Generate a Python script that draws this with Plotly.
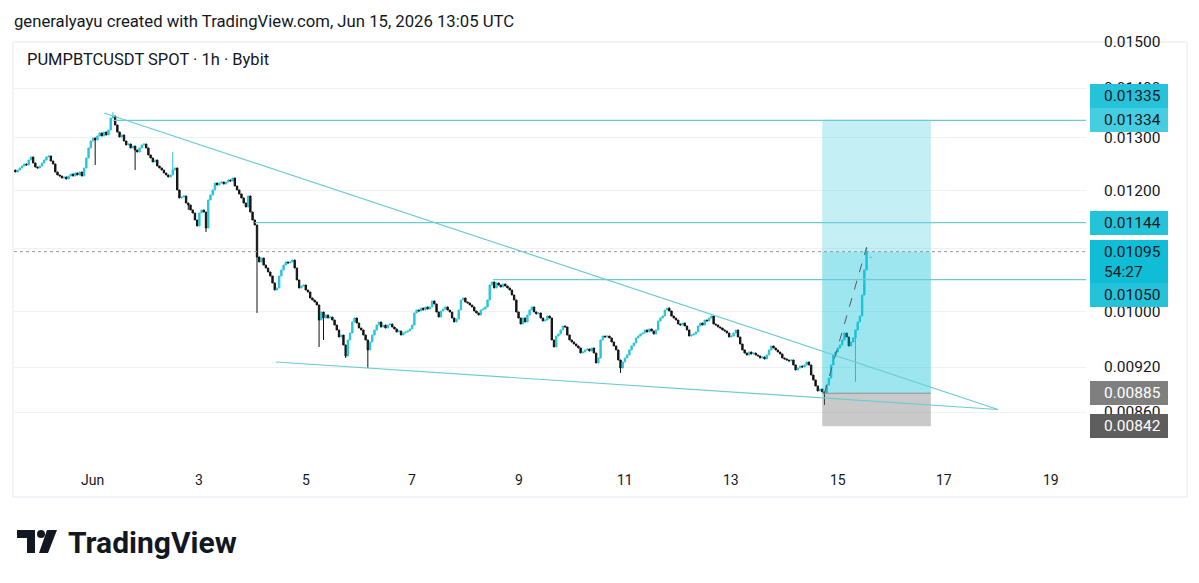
import numpy as np
import pandas as pd
import plotly.graph_objects as go

# ---------------- data ----------------
START = "2026-05-30 13:00"          # first hourly candle
FIRST_OPEN = 0.012380

closes = [
    0.012343, 0.012380, 0.012418, 0.012455, 0.012493, 0.012474, 0.012568, 0.012625, 0.012512, 0.012436,
    0.012418, 0.012455, 0.012512, 0.012568, 0.012625, 0.012644, 0.012549, 0.012493, 0.012343, 0.012288,
    0.012269, 0.012232, 0.012251, 0.012214, 0.012269, 0.012306, 0.012269, 0.012325, 0.012288, 0.012343,
    0.012269, 0.012418, 0.012606, 0.012797, 0.012932, 0.012991, 0.012952, 0.013030, 0.013089, 0.013030,
    0.013108, 0.013050, 0.013148, 0.013387, 0.013428, 0.013247, 0.013108, 0.013010, 0.013050, 0.012932,
    0.012855, 0.012874, 0.012797, 0.012835, 0.012758, 0.012720, 0.012797, 0.012855, 0.012874, 0.012797,
    0.012663, 0.012606, 0.012530, 0.012568, 0.012455, 0.012418, 0.012380, 0.012325, 0.012288, 0.012251,
    0.012288, 0.012380, 0.012418, 0.012014, 0.011870, 0.011888, 0.011906, 0.011781, 0.011746, 0.011658,
    0.011605, 0.011484, 0.011381, 0.011605, 0.011658, 0.011622, 0.011346, 0.011834, 0.011924, 0.012014,
    0.012141, 0.012104, 0.012141, 0.012159, 0.012122, 0.012159, 0.012196, 0.012177, 0.012232, 0.012086,
    0.012014, 0.011942, 0.011870, 0.011781, 0.011711, 0.011906, 0.011622, 0.011484, 0.011398, 0.010862,
    0.010781, 0.010846, 0.010732, 0.010684, 0.010620, 0.010556, 0.010446, 0.010336, 0.010368, 0.010556,
    0.010652, 0.010732, 0.010781, 0.010765, 0.010781, 0.010813, 0.010684, 0.010493, 0.010368, 0.010399,
    0.010414, 0.010336, 0.010305, 0.010213, 0.010182, 0.010152, 0.010106, 0.009880, 0.010000, 0.009910,
    0.009955, 0.009910, 0.009925, 0.009880, 0.009806, 0.009733, 0.009631, 0.009660, 0.009516, 0.009360,
    0.009588, 0.009689, 0.009851, 0.009910, 0.009836, 0.009762, 0.009733, 0.009660, 0.009588, 0.009445,
    0.009559, 0.009660, 0.009733, 0.009806, 0.009851, 0.009777, 0.009806, 0.009762, 0.009806, 0.009821,
    0.009777, 0.009748, 0.009704, 0.009718, 0.009660, 0.009689, 0.009704, 0.009718, 0.009748, 0.009806,
    0.009985, 0.010030, 0.010015, 0.010060, 0.010030, 0.010076, 0.010045, 0.010076, 0.010167, 0.010121,
    0.010000, 0.009925, 0.010015, 0.010045, 0.010076, 0.010030, 0.010000, 0.009910, 0.009851, 0.009895,
    0.010030, 0.010182, 0.010213, 0.010152, 0.010136, 0.010106, 0.010076, 0.010015, 0.009985, 0.009955,
    0.010030, 0.010045, 0.010076, 0.010182, 0.010414, 0.010462, 0.010368, 0.010446, 0.010414, 0.010383,
    0.010430, 0.010399, 0.010368, 0.010336, 0.010259, 0.010182, 0.010000, 0.009910, 0.009821, 0.009910,
    0.009851, 0.009955, 0.010030, 0.010076, 0.010000, 0.009970, 0.009985, 0.009910, 0.009866, 0.009880,
    0.009940, 0.009910, 0.009588, 0.009488, 0.009645, 0.009674, 0.009733, 0.009792, 0.009777, 0.009660,
    0.009588, 0.009559, 0.009530, 0.009502, 0.009473, 0.009402, 0.009416, 0.009445, 0.009459, 0.009430,
    0.009473, 0.009402, 0.009262, 0.009332, 0.009588, 0.009645, 0.009631, 0.009645, 0.009617, 0.009559,
    0.009502, 0.009445, 0.009304, 0.009192, 0.009276, 0.009332, 0.009374, 0.009445, 0.009502, 0.009545,
    0.009617, 0.009645, 0.009674, 0.009689, 0.009733, 0.009704, 0.009748, 0.009718, 0.009674, 0.009733,
    0.009866, 0.009910, 0.009940, 0.010030, 0.010060, 0.010015, 0.009940, 0.009910, 0.009880, 0.009821,
    0.009806, 0.009836, 0.009792, 0.009733, 0.009645, 0.009660, 0.009674, 0.009704, 0.009792, 0.009836,
    0.009806, 0.009880, 0.009866, 0.009910, 0.009940, 0.009821, 0.009806, 0.009777, 0.009762, 0.009733,
    0.009718, 0.009689, 0.009631, 0.009645, 0.009689, 0.009733, 0.009631, 0.009530, 0.009445, 0.009402,
    0.009374, 0.009416, 0.009388, 0.009402, 0.009374, 0.009360, 0.009332, 0.009346, 0.009318, 0.009374,
    0.009445, 0.009502, 0.009473, 0.009445, 0.009416, 0.009388, 0.009332, 0.009318, 0.009304, 0.009290,
    0.009304, 0.009234, 0.009165, 0.009192, 0.009220, 0.009206, 0.009234, 0.009276, 0.009234, 0.009096,
    0.009028, 0.008947, 0.008880, 0.008907, 0.008867, 0.008853, 0.008960, 0.009055, 0.009234, 0.009374,
    0.009416, 0.009473, 0.009516, 0.009588, 0.009689, 0.009631, 0.009502, 0.009559, 0.009617, 0.009733,
    0.009851, 0.009940, 0.010259, 0.010652, 0.010950,
]

wick_high = {
    "2026-06-01 09:00": 0.013509,
    "2026-06-02 12:00": 0.012720,
    "2026-06-15 13:00": 0.011020,
}
wick_low = {
    "2026-06-01 01:00": 0.012474,
    "2026-06-01 19:00": 0.012380,
    "2026-06-02 19:00": 0.011660,
    "2026-06-03 03:00": 0.011278,
    "2026-06-04 02:00": 0.009985,
    "2026-06-05 06:00": 0.009488,
    "2026-06-05 08:00": 0.009588,
    "2026-06-05 18:00": 0.009332,
    "2026-06-06 04:00": 0.009192,
    "2026-06-10 22:00": 0.009124,
    "2026-06-14 18:00": 0.008695,
    "2026-06-15 08:00": 0.009000,
}

# drawings
level_lines = [  # (price, start time)
    (0.01334, "2026-06-01 09:00"),
    (0.01144, "2026-06-04 01:00"),
    (0.01050, "2026-06-08 12:30"),
]
upper_trend = (["2026-06-01 05:00", "2026-06-18 00:18"], [0.013489, 0.0086363])
lower_trend = (["2026-06-04 10:36", "2026-06-18 00:18"], [0.0092757, 0.0086363])

pos_start, pos_end = "2026-06-14 17:00", "2026-06-16 18:00"
target_price, entry_price, stop_price, last_price = 0.01335, 0.00885, 0.00842, 0.01095
path_x = ["2026-06-14 18:00", "2026-06-15 13:00", "2026-06-15 15:00"]
path_y = [0.00885, 0.01102, 0.01085]

x_range = ["2026-05-30 12:22", "2026-06-19 16:00"]
y_range_prices = [0.0079089, 0.015008]

grid_prices = [0.015, 0.014, 0.013, 0.012, 0.011, 0.010, 0.0092, 0.0086]
y_ticks = [0.015, 0.014, 0.013, 0.012, 0.010, 0.0092, 0.0086]
y_tick_labels = ["0.01500", "0.01400", "0.01300", "0.01200", "0.01000", "0.00920", "0.00860"]
x_ticks = ["2026-06-01", "2026-06-03", "2026-06-05", "2026-06-07", "2026-06-09",
           "2026-06-11", "2026-06-13", "2026-06-15", "2026-06-17", "2026-06-19"]
x_tick_labels = ["Jun", "3", "5", "7", "9", "11", "13", "15", "17", "19"]

# price-scale labels: (price, text, bg, text colour, yshift px, height px)
price_boxes = [
    (0.01335, "0.01335", "#25c3da", "#131722", 24, 24),
    (0.01334, "0.01334", "#45cde0", "#131722", 0, 24),
    (0.01144, "0.01144", "#25c3da", "#131722", 0, 24),
    (0.01095, "0.01095<br>54:27", "#0fbdd6", "#131722", -10, 44),
    (0.01050, "0.01050", "#25c3da", "#131722", -15, 24),
    (0.00885, "0.00885", "#7f7f7f", "#ffffff", 0, 24),
    (0.00842, "0.00842", "#5e5e5e", "#ffffff", 0, 24),
]

# ---------------- build ----------------
times = pd.date_range(START, periods=len(closes), freq="h")
opens = [FIRST_OPEN] + closes[:-1]
highs = [max(o, c) for o, c in zip(opens, closes)]
lows = [min(o, c) for o, c in zip(opens, closes)]
for k, v in wick_high.items():
    i = times.get_loc(pd.Timestamp(k))
    highs[i] = max(highs[i], v)
for k, v in wick_low.items():
    i = times.get_loc(pd.Timestamp(k))
    lows[i] = min(lows[i], v)

W, H = 1199, 583
L, R, T, B = 14, 113, 42, 115
PW, PH = W - L - R, H - T - B


def px(xp):
    return (xp - L) / PW


def py(yp):
    return (H - B - yp) / PH


fig = go.Figure()

UP = "#26c6da"
DN = "#131313"
LINE = "#6ccbd2"

# candles (box layer sits below scatter layer)
fig.add_trace(go.Candlestick(
    x=times, open=opens, high=highs, low=lows, close=closes,
    increasing=dict(line=dict(color=UP, width=1), fillcolor=UP),
    decreasing=dict(line=dict(color=DN, width=1), fillcolor=DN),
    whiskerwidth=0, hoverinfo="skip"))

# position tool (translucent, drawn over candles)
fig.add_trace(go.Scatter(x=[pos_start, pos_end, pos_end, pos_start, pos_start],
                         y=[last_price, last_price, target_price, target_price, last_price],
                         fill="toself", fillcolor="rgba(0,188,212,0.23)", line=dict(width=0),
                         mode="lines", hoverinfo="skip"))
fig.add_trace(go.Scatter(x=[pos_start, pos_end, pos_end, pos_start, pos_start],
                         y=[entry_price, entry_price, last_price, last_price, entry_price],
                         fill="toself", fillcolor="rgba(0,188,212,0.38)", line=dict(width=0),
                         mode="lines", hoverinfo="skip"))
fig.add_trace(go.Scatter(x=[pos_start, pos_end, pos_end, pos_start, pos_start],
                         y=[stop_price, stop_price, entry_price, entry_price, stop_price],
                         fill="toself", fillcolor="rgba(120,120,120,0.40)", line=dict(width=0),
                         mode="lines", hoverinfo="skip"))
fig.add_trace(go.Scatter(x=[pos_start, pos_end], y=[entry_price, entry_price], mode="lines",
                         line=dict(color="#8e8e8e", width=1), hoverinfo="skip"))

# current price dotted line
fig.add_trace(go.Scatter(x=x_range, y=[last_price, last_price], mode="lines",
                         line=dict(color="#9598a1", width=1, dash="dot"), hoverinfo="skip"))

# horizontal levels
for price, t0 in level_lines:
    fig.add_trace(go.Scatter(x=[t0, x_range[1]], y=[price, price], mode="lines",
                             line=dict(color=LINE, width=1.2), hoverinfo="skip"))

# trend lines
for xs, ys in (upper_trend, lower_trend):
    fig.add_trace(go.Scatter(x=xs, y=ys, mode="lines", line=dict(color=LINE, width=1.2),
                             hoverinfo="skip"))

# dashed price path
fig.add_trace(go.Scatter(x=path_x, y=path_y, mode="lines",
                         line=dict(color="#555a66", width=1, dash="dash"), hoverinfo="skip"))

fig.update_layout(
    width=W, height=H, margin=dict(l=L, r=R, t=T, b=B),
    paper_bgcolor="white", plot_bgcolor="white", showlegend=False,
    font=dict(family="Roboto", color="#131722"),
    boxgap=0.12,
    xaxis=dict(type="date", range=x_range, showgrid=False, showticklabels=False,
               showline=False, zeroline=False, rangeslider=dict(visible=False), fixedrange=True),
    yaxis=dict(type="log", range=[np.log10(y_range_prices[0]), np.log10(y_range_prices[1])],
               tickmode="array", tickvals=grid_prices, showticklabels=False,
               showgrid=True, gridcolor="#f0f1f4", gridwidth=1, zeroline=False,
               showline=False, fixedrange=True),
)

# outer frame
fig.add_shape(type="rect", xref="paper", yref="paper", x0=px(13), x1=px(1187), y0=py(497), y1=py(42),
              line=dict(color="#e6e8ee", width=1), fillcolor="rgba(0,0,0,0)", layer="below")

# header texts
fig.add_annotation(xref="paper", yref="paper", x=px(12), y=py(21), xanchor="left", yanchor="middle",
                   text="generalyayu created with TradingView.com, Jun 15, 2026 13:05 UTC",
                   showarrow=False, font=dict(size=16.7, color="#131722", family="Roboto"))
fig.add_annotation(xref="paper", yref="paper", x=px(25), y=py(59), xanchor="left", yanchor="middle",
                   text="PUMPBTCUSDT SPOT · 1h · Bybit",
                   showarrow=False, font=dict(size=16.5, color="#131722", family="Roboto"))

# x tick labels
for t, lab in zip(x_ticks, x_tick_labels):
    fig.add_annotation(xref="x", yref="paper", x=t, y=py(480), xanchor="center", yanchor="middle",
                       text=lab, showarrow=False, font=dict(size=14, color="#131722", family="Roboto"))

# y tick labels
for v, lab in zip(y_ticks, y_tick_labels):
    fig.add_annotation(xref="paper", yref="y", x=px(1102), y=np.log10(v), xanchor="left",
                       yanchor="middle", text=lab, showarrow=False,
                       font=dict(size=15.5, color="#131722", family="Roboto"))

# price-scale boxes
for v, lab, bg, fg, ys, hh in price_boxes:
    fig.add_annotation(xref="paper", yref="y", x=px(1090), y=np.log10(v), xanchor="left",
                       yanchor="middle", text="\u00a0", showarrow=False, bgcolor=bg,
                       width=78, height=hh, borderpad=0, borderwidth=0, yshift=ys)
    fig.add_annotation(xref="paper", yref="y", x=px(1102), y=np.log10(v), xanchor="left",
                       yanchor="middle", text=lab, showarrow=False, align="left",
                       font=dict(size=15.5, color=fg, family="Roboto"), yshift=ys)

# TradingView logo
fig.add_shape(type="rect", xref="paper", yref="paper", x0=px(17), x1=px(35), y0=py(538), y1=py(530),
              fillcolor="#131722", line=dict(width=0))
fig.add_shape(type="rect", xref="paper", yref="paper", x0=px(27), x1=px(35), y0=py(553), y1=py(530),
              fillcolor="#131722", line=dict(width=0))
fig.add_shape(type="circle", xref="paper", yref="paper", x0=px(37), x1=px(45), y0=py(538), y1=py(530),
              fillcolor="#131722", line=dict(width=0))
fig.add_shape(type="path", xref="paper", yref="paper",
              path=f"M {px(47)} {py(530)} L {px(57)} {py(530)} L {px(48)} {py(553)} L {px(39)} {py(553)} Z",
              fillcolor="#131722", line=dict(width=0))
fig.add_annotation(xref="paper", yref="paper", x=px(66), y=py(542), xanchor="left", yanchor="middle",
                   text="<b>TradingView</b>", showarrow=False,
                   font=dict(size=30, color="#131722", family="Roboto"))

fig.write_html("out.html")
